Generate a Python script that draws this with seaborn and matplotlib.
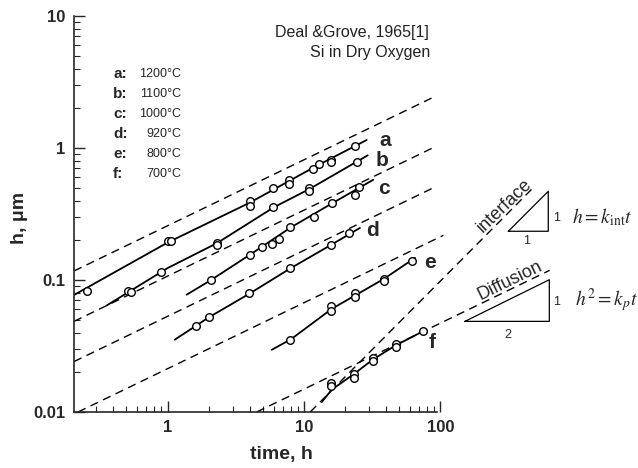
import numpy as np
import pandas as pd
import matplotlib
matplotlib.use("Agg")
import matplotlib.pyplot as plt
import seaborn as sns

# ---------------- data ----------------
series_names = ["a", "b", "c", "d", "e", "f"]
temperatures = ["1200°C", "1100°C", "1000°C", "920°C", "800°C", "700°C"]

a_t = [0.258, 1.0, 1.06, 4.02, 4.02, 5.96, 7.8, 7.8, 11.6, 12.9, 15.8, 15.8, 23.6]
a_h = [0.083, 0.196, 0.196, 0.399, 0.362, 0.497, 0.575, 0.537, 0.693, 0.757, 0.815, 0.79, 1.03]
b_t = [0.516, 0.54, 0.892, 2.29, 2.29, 5.96, 10.9, 10.9, 24.3]
b_h = [0.083, 0.0815, 0.114, 0.191, 0.185, 0.355, 0.497, 0.475, 0.779]
c_t = [2.07, 4.02, 4.90, 5.80, 6.59, 7.89, 11.8, 16.0, 23.6, 25.4]
c_h = [0.0995, 0.155, 0.179, 0.187, 0.205, 0.250, 0.299, 0.383, 0.438, 0.507]
d_t = [1.63, 2.02, 3.97, 7.89, 15.7, 21.5]
d_h = [0.0452, 0.052, 0.0794, 0.1227, 0.185, 0.227]
e_t = [7.89, 15.7, 15.7, 23.6, 23.6, 38.5, 38.5, 62.1]
e_h = [0.0353, 0.0632, 0.0579, 0.0797, 0.0743, 0.1026, 0.099, 0.140]
f_t = [15.8, 15.8, 23.4, 23.4, 32.0, 32.0, 47.2, 47.2, 74.5]
f_h = [0.0166, 0.0157, 0.0194, 0.0181, 0.0257, 0.0242, 0.0326, 0.0309, 0.0409]

# fitted (solid) curves
a_fit_t = [0.2065, 1.0, 4.0, 12.0, 28.8]
a_fit_h = [0.077, 0.192, 0.385, 0.72, 1.15]
b_fit_t = [0.36, 1.0, 2.3, 6.0, 11.0, 29.3]
b_fit_h = [0.0643, 0.123, 0.19, 0.355, 0.49, 0.88]
c_fit_t = [1.38, 2.07, 4.0, 8.0, 16.0, 32.2]
c_fit_h = [0.0774, 0.0995, 0.155, 0.25, 0.38, 0.575]
d_fit_t = [1.13, 2.0, 4.0, 8.0, 16.0, 25.7]
d_fit_h = [0.0353, 0.052, 0.079, 0.123, 0.186, 0.248]
e_fit_t = [5.8, 8.0, 16.0, 24.0, 38.5, 65.0]
e_fit_h = [0.0296, 0.0355, 0.0605, 0.077, 0.102, 0.147]
f_fit_t = [13.5, 16.0, 23.4, 32.0, 47.0, 75.0]
f_fit_h = [0.0119, 0.0148, 0.0195, 0.025, 0.032, 0.041]

# dashed limiting lines  h = h0 * (t / t0) ** n , drawn from t0 to t1
dash_t0 = [0.2065, 0.2065, 0.2065, 0.221, 4.5, 11.1]
dash_h0 = [0.117, 0.0486, 0.0241, 0.0100, 0.0100, 0.0100]
dash_n = [0.5, 0.5, 0.5, 0.5, 0.5, 1.04]
dash_t1 = [86.0, 88.0, 90.0, 105.0, 631.0, 480.0]

# slope triangles (data units)
tri_int_t = [314, 616, 616, 314]
tri_int_h = [0.234, 0.234, 0.470, 0.234]
tri_dif_t = [151, 627, 627, 151]
tri_dif_h = [0.0486, 0.0486, 0.1005, 0.0486]

x_ticks = [1, 10, 100]
x_ticklabels = ["1", "10", "100"]
y_ticks = [0.01, 0.1, 1, 10]
y_ticklabels = ["0.01", "0.1", "1", "10"]

# ---------------- figure ----------------
sns.set_style("ticks")
plt.rcParams["font.family"] = ["Liberation Sans", "DejaVu Sans"]
plt.rcParams["mathtext.fontset"] = "stix"

W, H = 638, 468
fig = plt.figure(figsize=(W / 100, H / 100), dpi=100)
ax = fig.add_axes([74 / W, 56 / H, (W - 74) / W, 396 / H])
ax.set_xscale("log")
ax.set_yscale("log")
ax.set_xlim(0.2065, 2799)
ax.set_ylim(0.01, 10)

pts = pd.concat([
    pd.DataFrame({"t": t, "h": h, "s": n}) for n, t, h in
    zip(series_names, [a_t, b_t, c_t, d_t, e_t, f_t], [a_h, b_h, c_h, d_h, e_h, f_h])
])
fits = pd.concat([
    pd.DataFrame({"t": t, "h": h, "s": n}) for n, t, h in
    zip(series_names, [a_fit_t, b_fit_t, c_fit_t, d_fit_t, e_fit_t, f_fit_t],
        [a_fit_h, b_fit_h, c_fit_h, d_fit_h, e_fit_h, f_fit_h])
])

dash = (0, (6, 4))
for t0, h0, n, t1 in zip(dash_t0, dash_h0, dash_n, dash_t1):
    tt = np.array([t0, t1])
    sns.lineplot(x=tt, y=h0 * (tt / t0) ** n, color="black", lw=1.0,
                 linestyle=dash, ax=ax, legend=False, clip_on=False)

for n in series_names:
    sub = fits[fits.s == n]
    sns.lineplot(data=sub, x="t", y="h", color="black", lw=1.3, ax=ax,
                 legend=False, sort=False, estimator=None)

sns.scatterplot(data=pts, x="t", y="h", marker="o", s=30, facecolor="white",
                edgecolor="black", linewidth=1.0, ax=ax, legend=False, zorder=5)

for tt, hh in [(tri_int_t, tri_int_h), (tri_dif_t, tri_dif_h)]:
    sns.lineplot(x=tt, y=hh, color="black", lw=0.9, ax=ax, legend=False,
                 sort=False, estimator=None)

# axes styling
for sp in ["top", "right"]:
    ax.spines[sp].set_visible(False)
ax.spines["bottom"].set_bounds(0.2065, 95)
ax.spines["left"].set_linewidth(1.2)
ax.spines["bottom"].set_linewidth(1.2)
ax.set_xticks(x_ticks)
ax.set_xticklabels(x_ticklabels)
ax.set_yticks(y_ticks)
ax.set_yticklabels(y_ticklabels)
ax.xaxis.set_minor_locator(matplotlib.ticker.FixedLocator(
    [v * d for d in (0.1, 1, 10) for v in range(2, 10) if 0.2065 < v * d < 95]))
ax.tick_params(which="major", direction="in", length=8, width=1.0, pad=6,
               labelsize=12)
ax.tick_params(which="minor", direction="in", length=4, width=0.8)
for lab in ax.get_xticklabels() + ax.get_yticklabels():
    lab.set_fontweight("bold")
ax.set_xlabel("")
ax.set_ylabel("")


def P(x, y):
    return x / W, 1 - y / H


fig.text(*P(281, 455), "time, h", ha="center", va="center", fontsize=14,
         fontweight="bold")
fig.text(*P(20, 218), "h, \u03bcm", ha="center", va="center", fontsize=14,
         fontweight="bold", rotation=90)

fig.text(*P(429, 32), "Deal &Grove, 1965[1]", ha="right", va="center",
         fontsize=11.5, color="#222222")
fig.text(*P(430, 52), "Si in Dry Oxygen", ha="right", va="center",
         fontsize=11.5, color="#222222")

for i, (n, temp) in enumerate(zip(series_names, temperatures)):
    y = 74 + 20 * i
    fig.text(*P(113, y), n + ":", ha="left", va="center", fontsize=11,
             fontweight="bold")
    fig.text(*P(181.5, y), temp, ha="right", va="center", fontsize=9)

label_pos = [(385, 140), (382, 160), (384, 188), (372, 231), (430, 263), (432, 343)]
for n, (x, y) in zip(series_names, label_pos):
    fig.text(*P(x, y), n, ha="center", va="center", fontsize=15,
             fontweight="bold")

fig.text(*P(504, 206), "interface", ha="center", va="center", fontsize=13,
         rotation=44, rotation_mode="anchor")
fig.text(*P(510, 281), "Diffusion", ha="center", va="center", fontsize=13,
         rotation=26, rotation_mode="anchor")

fig.text(*P(556.5, 218), "1", ha="center", va="center", fontsize=9)
fig.text(*P(527, 241), "1", ha="center", va="center", fontsize=9)
fig.text(*P(556.5, 302), "1", ha="center", va="center", fontsize=9)
fig.text(*P(508, 335), "2", ha="center", va="center", fontsize=9)
fig.text(*P(572, 217), r"$h = k_{\mathrm{int}}t$", ha="left", va="center",
         fontsize=14)
fig.text(*P(575, 300), r"$h^2 = k_p t$", ha="left", va="center", fontsize=14)

fig.savefig("out.png", dpi=100)
